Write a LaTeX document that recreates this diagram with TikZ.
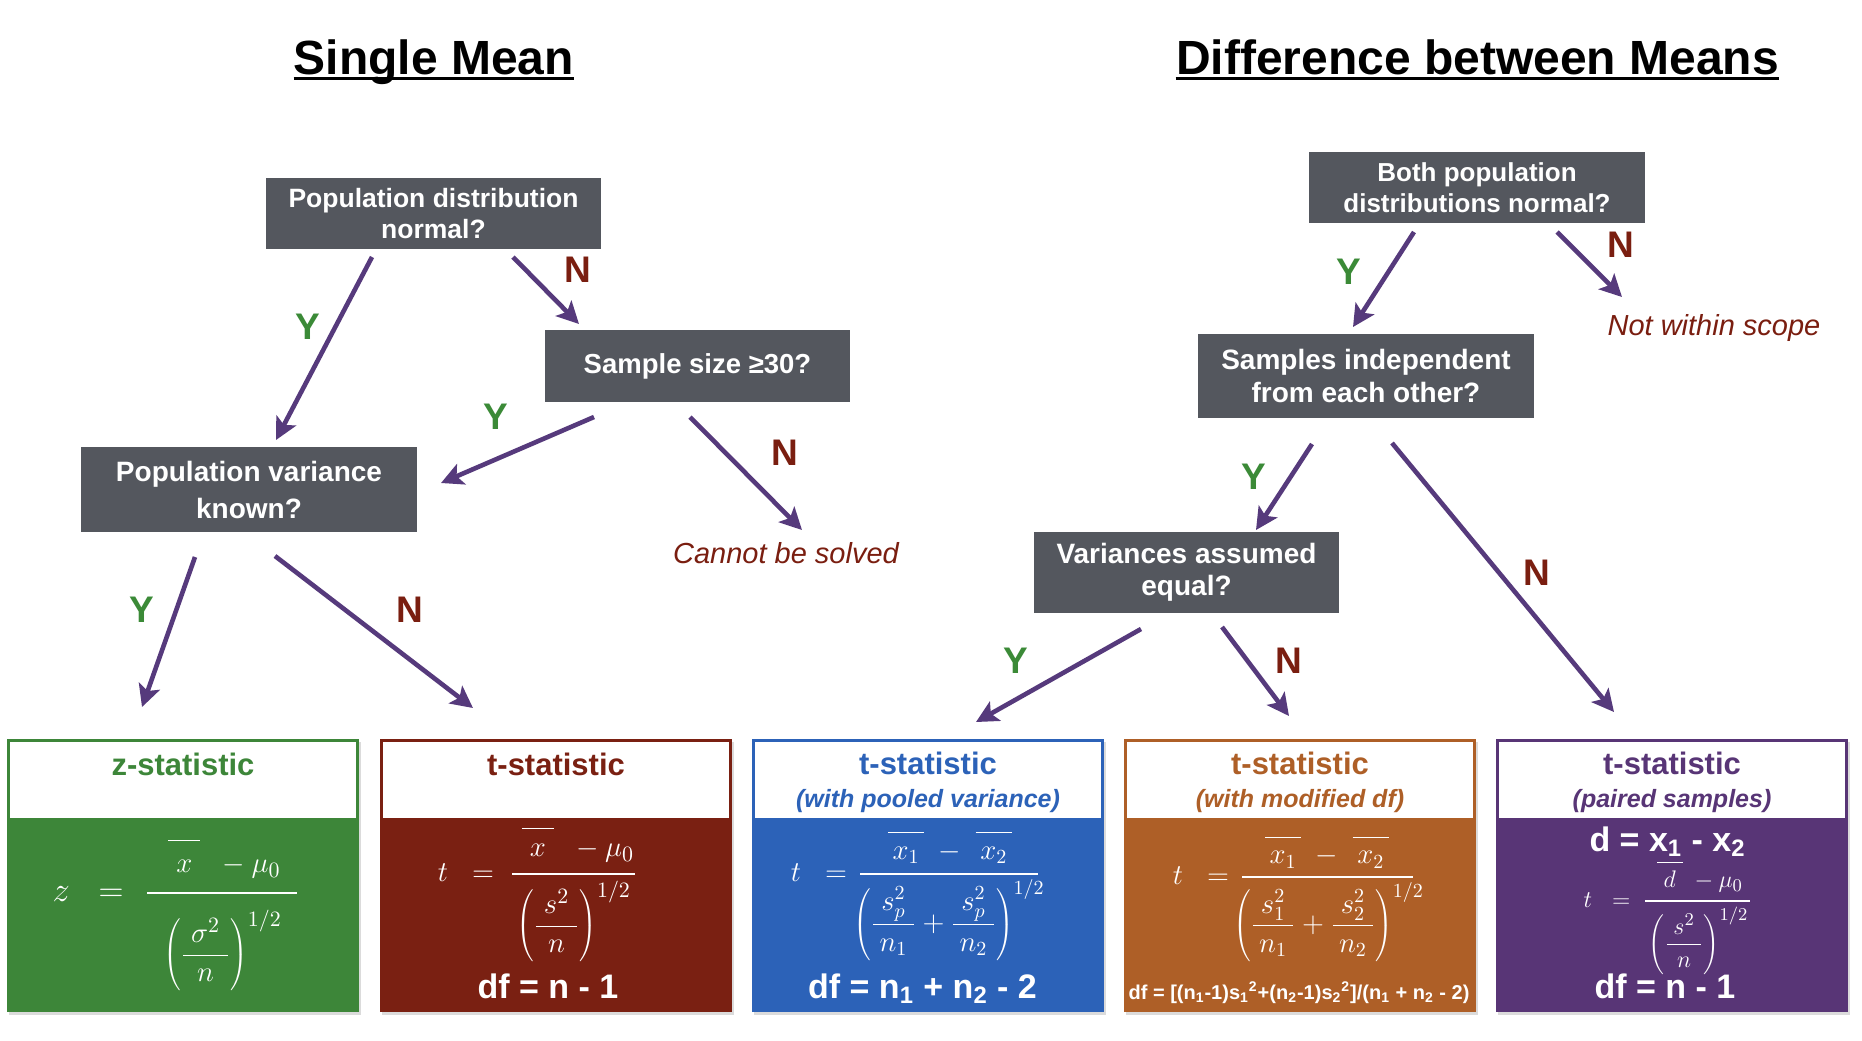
\documentclass[tikz,border=0pt]{standalone}
\usepackage{fontspec}
\setmainfont{Liberation Sans}
\usetikzlibrary{arrows.meta}
\definecolor{qgray}{HTML}{54575E}
\definecolor{apurple}{HTML}{563A7C}
\definecolor{ygreen}{HTML}{3B8A37}
\definecolor{ndred}{HTML}{7A1E10}
\definecolor{cgreen}{HTML}{3D8639}
\definecolor{cred}{HTML}{7A2012}
\definecolor{cblue}{HTML}{2C62B8}
\definecolor{corange}{HTML}{AE5F27}
\definecolor{cpurple}{HTML}{583576}
\newcommand{\fsz}[2]{\fontsize{#1}{#2}\selectfont}
\newcommand{\obar}[2]{\overline{\rule{0pt}{#1}#2}}
\begin{document}
\begin{tikzpicture}[x=0.5pt,y=-0.5pt,
  qbox/.style={rectangle, fill=qgray, text=white, align=center, inner sep=0pt},
  qsmall/.style={qbox, font=\fsz{13.25}{15.5}\bfseries},
  flow/.style={draw=apurple, line width=2.3pt, -{Stealth[length=11pt,width=11pt,inset=2.5pt]}},
  ylab/.style={text=ygreen, font=\fsz{18.5}{20}\bfseries, inner sep=0pt},
  nlab/.style={text=ndred, font=\fsz{18.5}{20}\bfseries, inner sep=0pt},
  note/.style={text=ndred, font=\fsz{14.5}{16}\itshape, inner sep=0pt},
  maintitle/.style={font=\fsz{24}{28}\bfseries, inner sep=0pt, anchor=base},
  sbox/.style={rectangle, minimum width=176pt, minimum height=136.5pt, inner sep=0pt},
  shead/.style={rectangle, fill=white, minimum width=173pt, minimum height=38pt, inner sep=0pt},
  htitle/.style={font=\fsz{15.5}{18}\bfseries, inner sep=0pt, anchor=base},
  hsub/.style={font=\fsz{12.5}{15}\bfseries\itshape, inner sep=0pt, anchor=base},
  dftext/.style={font=\fsz{17}{20}\bfseries, text=white, inner sep=0pt, anchor=base},
  mathw/.style={text=white, inner sep=0pt},
  fbar/.style={draw=white, line width=1pt}
]
\fill[white] (0,0) rectangle (1862,1040);
\useasboundingbox (0,0) rectangle (1862,1040);

% ---------- titles ----------
\node (t1) [maintitle] at (434,74) {Single Mean};
\draw[line width=1.5pt] ([yshift=-2.25pt]t1.base west) -- ([yshift=-2.25pt]t1.base east);
\node (t2) [maintitle] at (1477.5,74) {Difference between Means};
\draw[line width=1.5pt] ([yshift=-2.25pt]t2.base west) -- ([yshift=-2.25pt]t2.base east);

% ---------- question boxes ----------
\node (A) [qsmall, minimum width=167.5pt, minimum height=35.5pt] at (433.5,213.5) {Population distribution\\normal?};
\node (B) [qbox, font=\fsz{13.75}{16}\bfseries, minimum width=152.5pt, minimum height=36pt] at (697.5,366) {Sample size ≥30?};
\node (C) [qbox, font=\fsz{14}{18.5}\bfseries, minimum width=168pt, minimum height=42.5pt] at (249,489.5) {Population variance\\known?};
\node (D) [qbox, font=\fsz{13}{15.5}\bfseries, minimum width=168pt, minimum height=35.5pt] at (1477,187.5) {Both population\\distributions normal?};
\node (E) [qbox, font=\fsz{14}{16.5}\bfseries, minimum width=168pt, minimum height=42pt] at (1366,376) {Samples independent\\from each other?};
\node (F) [qbox, font=\fsz{14}{16}\bfseries, minimum width=152.5pt, minimum height=40.5pt] at (1186.5,572.5) {Variances assumed\\equal?};

\node (X) [note] at (786,553) {Cannot be solved};
\node (S) [note] at (1714,328) {Not within scope};

% ---------- result boxes ----------
\foreach \cx in {185,557.5,930,1302,1674}
  \fill[black!14] (\cx-352/2,741.5) rectangle (\cx+352/2,1014.5);

\node (zbox) [sbox, fill=cgreen] at (183,875.5) {};
\node (rbox) [sbox, fill=cred] at (555.5,875.5) {};
\node (bbox) [sbox, fill=cblue] at (928,875.5) {};
\node (obox) [sbox, fill=corange] at (1300,875.5) {};
\node (pbox) [sbox, fill=cpurple] at (1672,875.5) {};

\node (zhead) [shead] at (183,780) {};
\node (rhead) [shead] at (555.5,780) {};
\node (bhead) [shead] at (928,780) {};
\node (ohead) [shead] at (1300,780) {};
\node (phead) [shead] at (1672,780) {};

\node (ztit) [htitle, text=cgreen] at (183,775) {z-statistic};
\node (rtit) [htitle, text=cred] at (556,775) {t-statistic};
\node (btit) [htitle, text=cblue] at (928,774) {t-statistic};
\node (otit) [htitle, text=corange] at (1300,774) {t-statistic};
\node (ptit) [htitle, text=cpurple] at (1672,774) {t-statistic};
\node (bsub) [hsub, text=cblue] at (928,807) {(with pooled variance)};
\node (osub) [hsub, text=corange] at (1300,807) {(with modified df)};
\node (psub) [hsub, text=cpurple] at (1672,807) {(paired samples)};

% green: z statistic
\node (zlhs) [mathw, font=\fsz{16}{18}, anchor=base] at (88,901) {$z\;\;=$};
\node (znum) [mathw, font=\fsz{15.5}{18}] at (224.5,859) {$\obar{0.95em}{\;x\;}\;\;-\mu_0$};
\draw[fbar] (147,893) -- (297,893);
\node (zden) [mathw, font=\fsz{15.5}{18}] at (222.5,950.5) {$\displaystyle\left(\frac{\;\sigma^2\;}{n}\right)^{1/2}$};

% red: t statistic
\node (rlhs) [mathw, font=\fsz{15}{18}, anchor=base] at (466,881.5) {$t\;\;=$};
\node (rnum) [mathw, font=\fsz{15}{18}] at (578,845) {$\obar{0.85em}{\;x\;}\;\;-\mu_0$};
\draw[fbar] (512,874) -- (635,874);
\node (rden) [mathw, font=\fsz{15}{18}] at (573.5,921.5) {$\displaystyle\left(\frac{\;s^2\;}{n}\right)^{1/2}$};
\node (rdf) [dftext] at (548,998) {df = n - 1};

% blue: pooled
\node (blhs) [mathw, font=\fsz{14}{17}, anchor=base] at (819,881) {$t\;\;=$};
\node (bnum) [mathw, font=\fsz{14}{17}] at (950,847.5) {$\obar{0.85em}{\,x_{1}\,}\;-\;\obar{0.85em}{\,x_{2}\,}$};
\draw[fbar] (860,874) -- (1038,874);
\node (bden) [mathw, font=\fsz{14}{17}] at (949,920) {$\displaystyle\left(\frac{\;s_p^2\;}{n_1}+\frac{\;s_p^2\;}{n_2}\right)^{1/2}$};
\node (bdf) [dftext] at (922.5,998) {df = n\textsubscript{1} + n\textsubscript{2} - 2};

% orange: modified df
\node (olhs) [mathw, font=\fsz{14}{17}, anchor=base] at (1201,884) {$t\;\;=$};
\node (onum) [mathw, font=\fsz{14}{17}] at (1327,852) {$\obar{0.85em}{\,x_{1}\,}\;-\;\obar{0.85em}{\,x_{2}\,}$};
\draw[fbar] (1242,877) -- (1413,877);
\node (oden) [mathw, font=\fsz{14}{17}] at (1328.5,922) {$\displaystyle\left(\frac{\;s_1^2\;}{n_1}+\frac{\;s_2^2\;}{n_2}\right)^{1/2}$};
\node (odf) [font=\fsz{10}{12}\bfseries, text=white, inner sep=0pt, anchor=base] at (1299,999) {df = [(n\textsubscript{1}-1)s\textsubscript{1}\textsuperscript{2}+(n\textsubscript{2}-1)s\textsubscript{2}\textsuperscript{2}]/(n\textsubscript{1} + n\textsubscript{2} - 2)};

% purple: paired
\node (pd) [dftext] at (1667.5,851) {d = x\textsubscript{1} - x\textsubscript{2}};
\node (plhs) [mathw, font=\fsz{13}{15}, anchor=base] at (1607,907) {$t\;\;=$};
\node (pnum) [mathw, font=\fsz{12.5}{15}] at (1700,877) {$\obar{0.9em}{\;d\;}\;-\mu_0$};
\draw[fbar] (1645,901) -- (1750,901);
\node (pden) [mathw, font=\fsz{12.5}{15}] at (1698.5,941) {$\displaystyle\left(\frac{\;s^2\;}{n}\right)^{1/2}$};
\node (pdf) [dftext] at (1665,998) {df = n - 1};

% ---------- connector end points ----------
\coordinate (A-y) at (372,257);  \coordinate (C-in1) at (276,440);
\coordinate (A-n) at (513,257);  \coordinate (B-in) at (579,324);
\coordinate (B-y) at (594,417);  \coordinate (C-in2) at (441,483);
\coordinate (B-n) at (690,417);  \coordinate (X-in) at (802,530);
\coordinate (C-y) at (195,557);  \coordinate (z-in) at (142,707);
\coordinate (C-n) at (275,556);  \coordinate (r-in) at (473,708);
\coordinate (D-y) at (1414,232); \coordinate (E-in) at (1353,327);
\coordinate (D-n) at (1557,232); \coordinate (S-in) at (1622,297);
\coordinate (E-y) at (1312,444); \coordinate (F-in) at (1256,530);
\coordinate (E-n) at (1392,443); \coordinate (p-in) at (1614,712);
\coordinate (F-y) at (1141,629); \coordinate (b-in) at (976,722);
\coordinate (F-n) at (1222,627); \coordinate (o-in) at (1289,716);

\draw[flow] (A-y) -- (C-in1);
\draw[flow] (A-n) -- (B-in);
\draw[flow] (B-y) -- (C-in2);
\draw[flow] (B-n) -- (X-in);
\draw[flow] (C-y) -- (z-in);
\draw[flow] (C-n) -- (r-in);
\draw[flow] (D-y) -- (E-in);
\draw[flow] (D-n) -- (S-in);
\draw[flow] (E-y) -- (F-in);
\draw[flow] (E-n) -- (p-in);
\draw[flow] (F-y) -- (b-in);
\draw[flow] (F-n) -- (o-in);

% ---------- Y / N labels ----------
\node (l1) [ylab] at (308,327) {Y};
\node (l2) [nlab] at (578,270) {N};
\node (l3) [ylab] at (496,417) {Y};
\node (l4) [nlab] at (785,453) {N};
\node (l5) [ylab] at (142,610) {Y};
\node (l6) [nlab] at (410,610) {N};
\node (l7) [ylab] at (1349,272) {Y};
\node (l8) [nlab] at (1621,245) {N};
\node (l9) [ylab] at (1254,477) {Y};
\node (l10) [nlab] at (1537,573) {N};
\node (l11) [ylab] at (1016,661) {Y};
\node (l12) [nlab] at (1289,661) {N};
\end{tikzpicture}
\end{document}
